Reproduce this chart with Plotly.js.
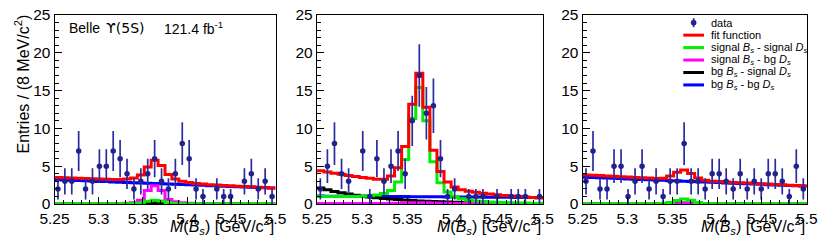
<!DOCTYPE html>
<html><head><meta charset="utf-8">
<script src="https://cdn.plot.ly/plotly-3.0.1.min.js"></script>
<style>html,body{margin:0;padding:0;background:#fff;}#chart{width:830px;height:243px;}</style>
</head><body><div id="chart"></div>
<script>
// ---- binning of M(Bs) ----
const binLow = 5.25, binHigh = 5.5, nBins = 32;
const xTickLabels = ["5.25","5.3","5.35","5.4","5.45","5.5"];
const yTickLabels = ["0","5","10","15","20","25"];

// ---- panel 1 ----
const data1  = [2,3,3,7,2,3,5,5,7,6,4,2,3,4,6,3,2,4,8,6,2,1,0,2,1,1,0,3,4,2,3,1];
const fit1   = [3.50,3.47,3.43,3.40,3.36,3.33,3.30,3.27,3.24,3.25,3.30,3.45,3.85,4.90,5.80,5.10,3.90,3.30,3.00,2.85,2.72,2.63,2.56,2.50,2.45,2.40,2.36,2.32,2.27,2.22,2.17,2.13];
const sigSig1= [0.02,0.02,0.02,0.02,0.02,0.02,0.02,0.02,0.02,0.02,0.02,0.05,0.12,0.35,0.50,0.40,0.15,0.06,0.03,0.02,0.02,0.02,0.02,0.02,0.02,0.02,0.02,0.02,0.02,0.02,0.02,0.02];
const sigBg1 = [0.02,0.02,0.02,0.03,0.03,0.03,0.04,0.05,0.06,0.07,0.10,0.18,0.50,1.80,2.40,1.80,0.60,0.30,0.15,0.10,0.07,0.05,0.04,0.03,0.03,0.02,0.02,0.02,0.02,0.02,0.02,0.02];
const bgSig1 = [0.01,0.01,0.01,0.01,0.01,0.01,0.01,0.01,0.01,0.01,0.01,0.02,0.05,0.10,0.15,0.10,0.05,0.02,0.01,0.01,0.01,0.01,0.01,0.01,0.01,0.01,0.01,0.01,0.01,0.01,0.01,0.01];
const bgBg1  = [3.20,3.17,3.13,3.10,3.06,3.03,2.99,2.96,2.92,2.89,2.85,2.82,2.78,2.75,2.71,2.68,2.64,2.61,2.57,2.54,2.50,2.47,2.43,2.40,2.36,2.33,2.29,2.26,2.22,2.19,2.15,2.12];

// ---- panel 2 ----
const data2  = [2,5,8,4,3,0,7,1,6,3,5,7,4,11,17,12,13,6,1,2,0,1,1,1,0,1,0,1,1,1,0,1];
const fit2   = [4.40,4.22,4.06,3.92,3.78,3.65,3.52,3.40,3.28,3.26,3.70,4.80,7.60,13.2,17.3,12.8,7.10,4.30,2.90,2.25,1.90,1.70,1.55,1.42,1.32,1.22,1.13,1.05,0.98,0.92,0.86,0.80];
const sigSig2= [1.00,1.00,1.00,1.00,1.00,1.00,1.02,1.08,1.20,1.40,1.80,2.90,5.90,11.3,15.4,11.0,5.60,2.80,1.60,1.00,0.70,0.50,0.40,0.32,0.26,0.22,0.19,0.16,0.14,0.12,0.11,0.10];
const sigBg2 = [0.08,0.08,0.08,0.08,0.08,0.08,0.08,0.08,0.08,0.08,0.09,0.10,0.12,0.15,0.16,0.15,0.12,0.10,0.09,0.08,0.08,0.08,0.08,0.08,0.08,0.08,0.08,0.08,0.08,0.08,0.08,0.08];
const bgSig2 = [2.10,1.87,1.66,1.48,1.32,1.17,1.04,0.93,0.83,0.74,0.66,0.58,0.52,0.46,0.41,0.37,0.33,0.29,0.26,0.23,0.20,0.17,0.15,0.13,0.11,0.09,0.08,0.07,0.06,0.05,0.04,0.03];
const bgBg2  = [1.05,1.04,1.04,1.03,1.03,1.02,1.01,1.01,1.00,1.00,0.99,0.98,0.98,0.97,0.97,0.96,0.95,0.95,0.94,0.93,0.93,0.92,0.91,0.91,0.90,0.89,0.89,0.88,0.87,0.87,0.86,0.85];

// ---- panel 3 ----
const data3  = [3,7,2,2,5,5,1,3,5,2,3,1,3,3,8,3,3,2,4,4,3,2,4,2,3,2,4,4,3,1,5,2];
const fit3   = [3.85,3.80,3.76,3.71,3.66,3.62,3.57,3.52,3.47,3.43,3.38,3.40,3.70,4.20,4.50,4.05,3.45,3.15,3.00,2.96,2.91,2.86,2.81,2.77,2.72,2.67,2.63,2.58,2.53,2.49,2.44,2.39];
const sigSig3= [0.02,0.02,0.02,0.02,0.02,0.02,0.02,0.02,0.02,0.02,0.02,0.05,0.20,0.45,0.65,0.50,0.20,0.07,0.03,0.02,0.02,0.02,0.02,0.02,0.02,0.02,0.02,0.02,0.02,0.02,0.02,0.02];
const sigBg3 = [0.02,0.02,0.02,0.02,0.02,0.02,0.02,0.02,0.02,0.02,0.02,0.02,0.03,0.04,0.05,0.04,0.03,0.02,0.02,0.02,0.02,0.02,0.02,0.02,0.02,0.02,0.02,0.02,0.02,0.02,0.02,0.02];
const bgSig3 = [0.01,0.01,0.01,0.01,0.01,0.01,0.01,0.01,0.01,0.01,0.01,0.02,0.05,0.10,0.12,0.10,0.05,0.02,0.01,0.01,0.01,0.01,0.01,0.01,0.01,0.01,0.01,0.01,0.01,0.01,0.01,0.01];
const bgBg3  = [3.55,3.51,3.47,3.44,3.40,3.36,3.32,3.28,3.25,3.21,3.17,3.13,3.09,3.06,3.02,2.98,2.94,2.90,2.87,2.83,2.79,2.75,2.71,2.68,2.64,2.60,2.56,2.52,2.49,2.45,2.41,2.37];

// ---- legend ----
const legendLabels = ["data","fit function",
  "signal <i>B<sub>s</sub></i> - signal <i>D<sub>s</sub></i>",
  "signal <i>B<sub>s</sub></i> - bg <i>D<sub>s</sub></i>",
  "bg <i>B<sub>s</sub></i> - signal <i>D<sub>s</sub></i>",
  "bg <i>B<sub>s</sub></i> - bg <i>D<sub>s</sub></i>"];
const dataColor = "#22228c";
const errColor = "#2c2ca0";
const legendColors = [dataColor,"#ff0000","#00ee00","#ff00ff","#000000","#0000ff"];

// ---------------------------------------------------------------
const W = 830, H = 243;
const FONT = "Liberation Sans, Arial, Helvetica, sans-serif";
const edges = Array.from({length: nBins + 1}, (_, i) => binLow + i * (binHigh - binLow) / nBins);
const centers = edges.slice(0, nBins).map((e, i) => (e + edges[i + 1]) / 2);
const stepY = v => v.concat([v[v.length - 1]]);

const panels = [
  {sfx: "",  data: data1, fit: fit1, ss: sigSig1, sb: sigBg1, bs: bgSig1, bb: bgBg1, px: [54.5, 275.5]},
  {sfx: "2", data: data2, fit: fit2, ss: sigSig2, sb: sigBg2, bs: bgSig2, bb: bgBg2, px: [316.8, 543.0]},
  {sfx: "3", data: data3, fit: fit3, ss: sigSig3, sb: sigBg3, bs: bgSig3, bb: bgBg3, px: [582.5, 806.8]}
];
const plotTop = 15, plotBottom = 204;

const traces = [];
const layout = {
  width: W, height: H, autosize: false,
  margin: {l: 0, r: 0, t: 0, b: 0},
  paper_bgcolor: "#fff", plot_bgcolor: "#fff",
  showlegend: false,
  font: {family: FONT, color: "#000"},
  annotations: [], shapes: []
};

function stepTrace(p, y, color, name) {
  return {x: edges, y: stepY(y), xaxis: "x" + p.sfx, yaxis: "y" + p.sfx, type: "scatter", mode: "lines",
          line: {color: color, width: 3, shape: "hv"}, name: name, hoverinfo: "skip"};
}

panels.forEach(p => {
  traces.push(stepTrace(p, p.bb, legendColors[5], "bg Bs - bg Ds"));
  traces.push(stepTrace(p, p.bs, legendColors[4], "bg Bs - signal Ds"));
  traces.push(stepTrace(p, p.sb, legendColors[3], "signal Bs - bg Ds"));
  traces.push(stepTrace(p, p.ss, legendColors[2], "signal Bs - signal Ds"));
  traces.push(stepTrace(p, p.fit, legendColors[1], "fit function"));
  traces.push({x: centers, y: p.data.map(v => v > 0 ? v : null), xaxis: "x" + p.sfx, yaxis: "y" + p.sfx,
    type: "scatter", mode: "markers", name: "data",
    marker: {color: dataColor, size: 5.5},
    error_y: {type: "sqrt", visible: true, color: errColor, thickness: 1.7, width: 0}});

  const xd = [p.px[0] / W, p.px[1] / W];
  const yd = [1 - plotBottom / H, 1 - plotTop / H];
  layout["xaxis" + p.sfx] = {
    domain: xd, anchor: "y" + p.sfx, range: [binLow, binHigh],
    tickmode: "array", tickvals: xTickLabels.map(Number), ticktext: xTickLabels,
    ticks: "inside", ticklen: 7, tickwidth: 1, tickcolor: "#000",
    minor: {dtick: 0.01, tick0: binLow, ticks: "inside", ticklen: 4, tickwidth: 1, tickcolor: "#000"},
    showline: true, mirror: true, linecolor: "#000", linewidth: 1,
    showgrid: false, zeroline: false,
    tickfont: {family: FONT, size: 15.5, color: "#000"}
  };
  layout["yaxis" + p.sfx] = {
    domain: yd, anchor: "x" + p.sfx, range: [0, 25],
    tickmode: "array", tickvals: yTickLabels.map(Number), ticktext: yTickLabels,
    ticks: "inside", ticklen: 7, tickwidth: 1, tickcolor: "#000",
    minor: {dtick: 1, tick0: 0, ticks: "inside", ticklen: 4, tickwidth: 1, tickcolor: "#000"},
    showline: true, mirror: true, linecolor: "#000", linewidth: 1,
    showgrid: false, zeroline: false,
    tickfont: {family: FONT, size: 15.5, color: "#000"}
  };
  layout.annotations.push({
    xref: "x" + p.sfx + " domain", x: 1, xanchor: "right",
    yref: "paper", y: 1 - 226 / H, yanchor: "middle",
    text: "<i>M</i>(<i>B<sub>s</sub></i>) [GeV/c<sup>2</sup>]", showarrow: false,
    font: {family: FONT, size: 16, color: "#000"}
  });
});

// y-axis title (panel 1)
layout.annotations.push({
  xref: "paper", x: 22 / W, xanchor: "center", yref: "paper", y: 1 - 13 / H, yanchor: "top",
  textangle: -90, showarrow: false, text: "Entries / (8 MeV/c<sup>2</sup>)",
  font: {family: FONT, size: 16, color: "#000"}
});
// experiment label
[["Belle", 67, FONT], ["\u03D2(5S)", 104, "DejaVu Sans, " + FONT], ["121.4 fb<sup>-1</sup>", 162, FONT]].forEach(([t, xp, ff]) => {
  layout.annotations.push({xref: "paper", x: xp / W, xanchor: "left", yref: "paper", y: 1 - 28 / H, yanchor: "middle",
    text: t, showarrow: false, font: {family: ff, size: 14, color: "#000"}});
});

// legend (panel 3)
const legTop = 22.7, legStep = 12.45, symX0 = 683.3, symX1 = 704, textX = 709;
legendLabels.forEach((lab, k) => {
  const yp = legTop + k * legStep;
  const yy = 1 - yp / H;
  if (k === 0) {
    const xc = (symX0 + symX1) / 2;
    layout.shapes.push({type: "line", xref: "paper", yref: "paper", x0: xc / W, x1: xc / W,
      y0: 1 - (yp + 4.5) / H, y1: 1 - (yp - 4.5) / H, line: {color: errColor, width: 1.7}});
    layout.shapes.push({type: "circle", xref: "paper", yref: "paper", x0: (xc - 2.6) / W, x1: (xc + 2.6) / W,
      y0: 1 - (yp + 2.6) / H, y1: 1 - (yp - 2.6) / H, fillcolor: dataColor, line: {color: dataColor, width: 0.5}});
  } else {
    layout.shapes.push({type: "line", xref: "paper", yref: "paper", x0: symX0 / W, x1: symX1 / W,
      y0: yy, y1: yy, line: {color: legendColors[k], width: 3}});
  }
  layout.annotations.push({xref: "paper", x: textX / W, xanchor: "left", yref: "paper", y: yy, yanchor: "middle",
    text: lab, showarrow: false, font: {family: FONT, size: 11, color: "#000"}});
});

Plotly.newPlot("chart", traces, layout, {staticPlot: true, displayModeBar: false});
</script></body></html>
